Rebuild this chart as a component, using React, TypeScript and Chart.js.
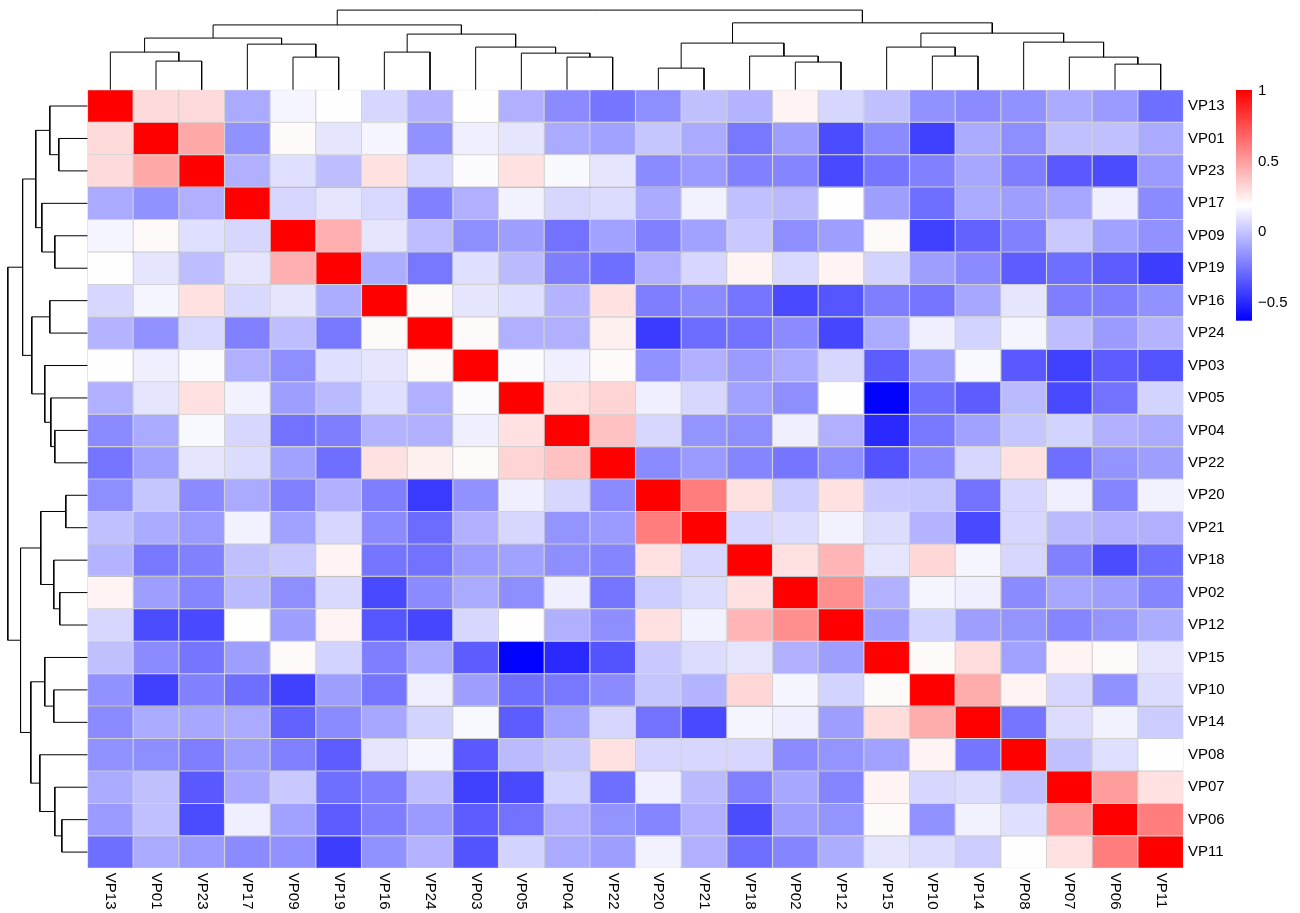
import React, { useEffect, useRef } from "react";
import { Chart, registerables } from "chart.js";

Chart.register(...registerables);

// ---------------- data ----------------
const labels = [
  "VP13", "VP01", "VP23", "VP17", "VP09", "VP19", "VP16", "VP24", "VP03", "VP05", "VP04", "VP22",
  "VP20", "VP21", "VP18", "VP02", "VP12", "VP15", "VP10", "VP14", "VP08", "VP07", "VP06", "VP11",
];

// upper triangle of the correlation matrix (row r holds columns r+1 .. 23), diagonal = 1
const upper: number[][] = [
  [0.30, 0.30, -0.09, 0.15, 0.18, 0.05, -0.06, 0.18, -0.07, -0.19, -0.26, -0.18, -0.02, -0.06, 0.22, 0.05, -0.02, -0.17, -0.19, -0.17, -0.09, -0.14, -0.28],
  [0.46, -0.17, 0.20, 0.10, 0.15, -0.17, 0.13, 0.10, -0.09, -0.12, 0.00, -0.09, -0.25, -0.13, -0.39, -0.19, -0.43, -0.09, -0.18, -0.02, -0.02, -0.09],
  [-0.07, 0.08, -0.03, 0.28, 0.06, 0.17, 0.28, 0.16, 0.10, -0.19, -0.14, -0.22, -0.21, -0.40, -0.26, -0.22, -0.10, -0.23, -0.35, -0.39, -0.14],
  [0.05, 0.10, 0.06, -0.22, -0.07, 0.14, 0.05, 0.07, -0.09, 0.14, -0.02, -0.04, 0.18, -0.13, -0.28, -0.09, -0.13, -0.10, 0.13, -0.19],
  [0.44, 0.10, -0.03, -0.18, -0.13, -0.27, -0.12, -0.22, -0.12, 0.01, -0.18, -0.13, 0.20, -0.43, -0.32, -0.22, 0.01, -0.12, -0.17],
  [-0.08, -0.25, 0.08, -0.04, -0.23, -0.28, -0.07, 0.05, 0.22, 0.06, 0.22, 0.04, -0.13, -0.19, -0.34, -0.28, -0.34, -0.44],
  [0.20, 0.10, 0.08, -0.06, 0.28, -0.23, -0.19, -0.26, -0.40, -0.36, -0.23, -0.26, -0.10, 0.10, -0.23, -0.23, -0.17],
  [0.20, -0.07, -0.07, 0.23, -0.45, -0.29, -0.27, -0.19, -0.41, -0.09, 0.13, 0.04, 0.15, -0.03, -0.14, -0.06],
  [0.17, 0.13, 0.20, -0.17, -0.07, -0.14, -0.09, 0.05, -0.34, -0.13, 0.16, -0.35, -0.43, -0.34, -0.37],
  [0.28, 0.32, 0.13, 0.05, -0.12, -0.18, 0.18, -0.63, -0.28, -0.34, -0.04, -0.40, -0.27, 0.04],
  [0.38, 0.05, -0.16, -0.18, 0.13, -0.07, -0.50, -0.25, -0.12, 0.00, 0.04, -0.07, -0.09],
  [-0.19, -0.14, -0.21, -0.26, -0.18, -0.37, -0.19, 0.05, 0.28, -0.28, -0.16, -0.13],
  [0.60, 0.28, 0.02, 0.28, 0.01, 0.00, -0.27, 0.05, 0.13, -0.21, 0.14],
  [0.05, 0.07, 0.14, 0.07, -0.06, -0.40, 0.05, -0.04, -0.07, -0.07],
  [0.28, 0.42, 0.10, 0.31, 0.15, 0.05, -0.22, -0.39, -0.28],
  [0.54, -0.07, 0.15, 0.13, -0.19, -0.10, -0.13, -0.21],
  [-0.13, 0.04, -0.13, -0.16, -0.21, -0.16, -0.08],
  [0.20, 0.29, -0.12, 0.22, 0.20, 0.10],
  [0.45, 0.22, 0.05, -0.17, 0.07],
  [-0.26, 0.07, 0.14, 0.02],
  [-0.02, 0.08, 0.18],
  [0.50, 0.28],
  [0.60],
  [],
];

// hierarchical clustering merges (R hclust style): negative = leaf (1-based), positive = earlier merge; last = height
const merges: [number, number, number][] = [
  [-2, -3, 0.360],
  [-1, 1, 0.473],
  [-5, -6, 0.410],
  [-4, 3, 0.573],
  [2, 4, 0.649],
  [-7, -8, 0.473],
  [-11, -12, 0.410],
  [-10, 7, 0.460],
  [-9, 8, 0.536],
  [6, 9, 0.699],
  [5, 10, 0.814],
  [-13, -14, 0.272],
  [-16, -17, 0.348],
  [-15, 13, 0.423],
  [12, 14, 0.586],
  [-19, -20, 0.423],
  [-18, 16, 0.536],
  [-23, -24, 0.322],
  [-22, 18, 0.410],
  [-21, 19, 0.598],
  [17, 20, 0.711],
  [15, 21, 0.840],
  [11, 22, 1.0],
];

const legendTicks = [1, 0.5, 0, -0.5];
const legendTickLabels = ["1", "0.5", "0", "\u22120.5"];
const colorMin = -0.635;
const colorMax = 1;

// ---------------- layout (pixels) ----------------
const W = 1300;
const H = 913;
const HM_LEFT = 87.5;
const HM_RIGHT = 1183.5;
const HM_TOP = 89.8;
const HM_BOTTOM = 868.3;
const DENDRO_PX = 79.7;
const CELL_W = (HM_RIGHT - HM_LEFT) / 24;
const CELL_H = (HM_BOTTOM - HM_TOP) / 24;
const FONT = "'Liberation Sans', Arial, Helvetica, sans-serif";

function colorFor(v: number): string {
  let t = (v - colorMin) / (colorMax - colorMin);
  t = Math.max(0, Math.min(1, t));
  if (t < 0.5) {
    const s = Math.round((255 * t) / 0.5);
    return `rgb(${s},${s},255)`;
  }
  const s = Math.round(255 * (1 - (t - 0.5) / 0.5));
  return `rgb(255,${s},${s})`;
}

function fullValue(r: number, c: number): number {
  if (r === c) return 1;
  if (r < c) return upper[r][c - r - 1];
  return upper[c][r - c - 1];
}

function treePolylines(): { p: number; h: number }[][] {
  const pos: number[] = [];
  const hgt: number[] = [];
  const ref = (k: number) => (k < 0 ? { p: -k - 1 + 0.5, h: 0 } : { p: pos[k - 1], h: hgt[k - 1] });
  const lines: { p: number; h: number }[][] = [];
  merges.forEach(([a, b, h]) => {
    const A = ref(a);
    const B = ref(b);
    lines.push([
      { p: A.p, h: A.h },
      { p: A.p, h },
      { p: B.p, h },
      { p: B.p, h: B.h },
    ]);
    pos.push((A.p + B.p) / 2);
    hgt.push(h);
  });
  return lines;
}

export default function App() {
  const canvasRef = useRef<HTMLCanvasElement | null>(null);

  useEffect(() => {
    document.body.style.margin = "0";
    document.documentElement.style.overflow = "hidden";
    const canvas = canvasRef.current;
    if (!canvas) return;

    const xMin = -HM_LEFT / CELL_W;
    const xMax = (HM_RIGHT - HM_LEFT) / CELL_W;
    const yMin = -HM_TOP / CELL_H;
    const yMax = 24;
    const topUnits = DENDRO_PX / CELL_H;
    const leftUnits = DENDRO_PX / CELL_W;

    const barSets: any[] = labels.map((_, r) => ({
      type: "bar",
      label: labels[r],
      data: labels.map((__, c) => ({ x: c + 0.5, y: [r, r + 1], v: fullValue(r, c) })),
      backgroundColor: (ctx: any) => colorFor(ctx.raw ? ctx.raw.v : 0),
      borderColor: "#999999",
      borderWidth: 0.55,
      borderSkipped: false,
      grouped: false,
      barPercentage: 1,
      categoryPercentage: 1,
      inflateAmount: 0,
    }));

    const lines = treePolylines();
    const topData: any[] = [];
    const leftData: any[] = [];
    lines.forEach((pl) => {
      pl.forEach((pt) => {
        topData.push({ x: pt.p, y: -pt.h * topUnits });
        leftData.push({ x: -pt.h * leftUnits, y: pt.p });
      });
      topData.push({ x: pl[3].p, y: null });
      leftData.push({ x: 0, y: null });
    });

    const lineCommon = {
      type: "line",
      borderColor: "#000000",
      borderWidth: 1,
      pointRadius: 0,
      fill: false,
      tension: 0,
      spanGaps: false,
    };

    const annotate = {
      id: "heatmapExtras",
      afterDraw(chart: any) {
        const ctx = chart.ctx as CanvasRenderingContext2D;
        const xs = chart.scales.x;
        const area = chart.chartArea;
        ctx.save();
        // column labels (rotated clockwise)
        ctx.font = `15px ${FONT}`;
        ctx.fillStyle = "#000";
        ctx.textAlign = "left";
        ctx.textBaseline = "middle";
        labels.forEach((lab, c) => {
          const x = xs.getPixelForValue(c + 0.5);
          ctx.save();
          ctx.translate(x, area.bottom + 4.5);
          ctx.rotate(Math.PI / 2);
          ctx.fillText(lab, 0, 0);
          ctx.restore();
        });
        // colour legend
        const lx = 1236;
        const lw = 16;
        const ly = 90;
        const lh = 230.7;
        const grad = ctx.createLinearGradient(0, ly, 0, ly + lh);
        grad.addColorStop(0, colorFor(colorMax));
        grad.addColorStop(0.5, colorFor((colorMax + colorMin) / 2));
        grad.addColorStop(1, colorFor(colorMin));
        ctx.fillStyle = grad;
        ctx.fillRect(lx, ly, lw, lh);
        ctx.fillStyle = "#000";
        ctx.textAlign = "left";
        ctx.textBaseline = "middle";
        legendTicks.forEach((v, i) => {
          const y = ly + ((colorMax - v) / (colorMax - colorMin)) * lh;
          ctx.fillText(legendTickLabels[i], lx + lw + 6, y + 1);
        });
        ctx.restore();
      },
    };

    const chart = new Chart(canvas, {
      type: "bar",
      data: {
        datasets: [
          ...barSets,
          { ...lineCommon, label: "colTree", data: topData },
          { ...lineCommon, label: "rowTree", data: leftData },
        ] as any,
      },
      options: {
        animation: false,
        responsive: true,
        maintainAspectRatio: false,
        events: [],
        layout: { padding: { left: 0, top: 0, right: 0, bottom: H - HM_BOTTOM } },
        plugins: {
          legend: { display: false },
          tooltip: { enabled: false },
          title: { display: false },
        },
        scales: {
          x: {
            type: "linear",
            display: false,
            min: xMin,
            max: xMax,
            offset: false,
            bounds: "data",
            afterBuildTicks: (axis: any) => {
              axis.ticks = labels.map((_, i) => ({ value: i + 0.5 }));
            },
          },
          y: {
            type: "linear",
            display: false,
            reverse: true,
            min: yMin,
            max: yMax,
            bounds: "data",
          },
          yr: {
            type: "linear",
            position: "right",
            reverse: true,
            min: yMin,
            max: yMax,
            bounds: "data",
            grid: { display: false, drawTicks: false },
            border: { display: false },
            ticks: {
              autoSkip: false,
              padding: 4.5,
              color: "#000",
              font: { family: FONT, size: 15 },
              callback: (_v: any, idx: number) => labels[idx],
            },
            afterBuildTicks: (axis: any) => {
              axis.ticks = labels.map((_, i) => ({ value: i + 0.5 }));
            },
            afterFit: (axis: any) => {
              axis.width = W - HM_RIGHT;
              axis.paddingTop = 0;
              axis.paddingBottom = 0;
            },
          },
        } as any,
      },
      plugins: [annotate],
    });

    return () => chart.destroy();
  }, []);

  return (
    <div style={{ position: "relative", width: W, height: H, background: "#fff" }}>
      <canvas ref={canvasRef} />
    </div>
  );
}
